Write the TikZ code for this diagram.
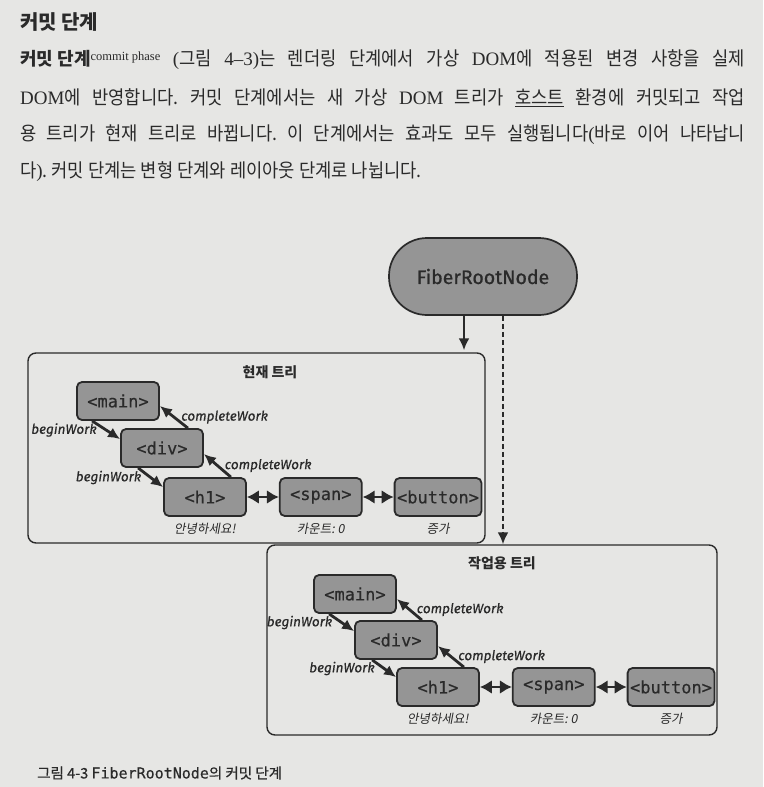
\documentclass[tikz,border=0pt]{standalone}
\usepackage{fontspec}
\setmainfont{Liberation Serif}
\setmonofont{DejaVu Sans Mono}[FakeBold=0.4]
\newfontfamily\kr{Noto Sans CJK KR}
\newfontfamily\krbody{Noto Sans CJK KR}[FakeStretch=0.93]
\newfontfamily\krcap{Noto Sans CJK KR}[FakeBold=0.6]
\newfontfamily\krslant{Noto Sans CJK KR}[FakeSlant=0.18]
\newfontfamily\fira{Fira Sans}[FakeBold=0.9]
\newfontfamily\firait{Fira Sans Italic}[FakeBold=0.5]
\usepackage{xcolor}
\usetikzlibrary{arrows.meta,positioning}
\definecolor{paper}{HTML}{E6E6E4}
\definecolor{ink}{HTML}{2A2A2A}
\definecolor{nodegray}{HTML}{959595}

\begin{document}
\frenchspacing
\begin{tikzpicture}[x=1pt, y=-1pt,
    >={Latex[length=12pt,width=11pt]},
    every node/.style={inner sep=0pt, text=ink},
    heading/.style={anchor=west, font=\kr\bfseries\fontsize{20}{20}\selectfont},
    bodyline/.style={anchor=west, font=\krbody\fontsize{19}{20}\selectfont},
    caption/.style={anchor=west, font=\krcap\fontsize{14.5}{15}\selectfont},
    fiber/.style={draw=ink, line width=1.7pt, fill=nodegray, rounded corners=38pt,
      minimum width=188pt, minimum height=77pt, font=\fira\fontsize{19.5}{20}\selectfont},
    treebox/.style={draw=ink, line width=1.4pt, rounded corners=8pt, fill=paper},
    boxtitle/.style={font=\kr\bfseries\fontsize{14}{14}\selectfont},
    elem/.style={draw=ink, line width=1.8pt, fill=nodegray, rounded corners=5pt,
      minimum width=82pt, minimum height=38pt, inner sep=2.5pt,
      font=\ttfamily\fontsize{17}{17}\selectfont},
    work/.style={font=\firait\fontsize{13.5}{14}\selectfont},
    note/.style={font=\krslant\fontsize{12.5}{13}\selectfont},
    link/.style={draw=ink, line width=2.8pt},
    duo/.style={draw=ink, line width=2.8pt, {Latex[length=12pt,width=14pt]}-{Latex[length=12pt,width=14pt]}}]

  \fill[paper] (0,0) rectangle (763,787);

  % text above the figure
  \node[heading] (head) at (20,22) {커밋 단계};
  \node[bodyline] (line1) at (20,60) {\makebox[725pt][s]{\mbox{\kr\bfseries\fontsize{18}{20}\selectfont 커밋 단계}\raisebox{5pt}{\rmfamily\fontsize{12.5}{12}\selectfont commit phase} {\rmfamily(}그림 {\rmfamily 4--3)}는 렌더링 단계에서 가상 {\rmfamily DOM}에 적용된 변경 사항을 실제}};
  \node[bodyline] (line2) at (20,98) {\makebox[725pt][s]{{\rmfamily DOM}에 반영합니다. 커밋 단계에서는 새 가상 {\rmfamily DOM} 트리가 \underline{호스트} 환경에 커밋되고 작업}};
  \node[bodyline] (line3) at (20,135) {\makebox[725pt][s]{용 트리가 현재 트리로 바뀝니다. 이 단계에서는 효과도 모두 실행됩니다{\rmfamily(}바로 이어 나타납니}};
  \node[bodyline] (line4) at (20,172) {다{\rmfamily)}. 커밋 단계는 변형 단계와 레이아웃 단계로 나뉩니다.};

  \node[fiber] (root) at (483,276.5) {FiberRootNode};

  % current tree
  \node[treebox, minimum width=457pt, minimum height=190pt] (cur) at (256.5,448) {};
  \node[boxtitle] (curtitle) at (270,372) {현재 트리};
  \node[elem] (cmain) at (118,401) {<main>};
  \node[elem] (cdiv) at (162,448) {<div>};
  \node[elem] (ch1) at (205,497) {<h1>};
  \node[elem, right=32pt of ch1] (cspan) {<span>};
  \node[elem, right=31pt of cspan] (cbutton) {<button>};
  \node[note, below=6pt of ch1] (chello) {안녕하세요!};
  \node[note, below=6pt of cspan] (ccount) {카운트: 0};
  \node[note, below=6pt of cbutton] (cinc) {증가};

  \draw[link, ->] ([xshift=16pt]cmain.south west) -- node[work, left=8pt] {beginWork} ([yshift=-11pt]cdiv.north west);
  \draw[link, ->] ([xshift=-16pt]cdiv.north east) -- node[work, right=6pt] {completeWork} ([yshift=-5pt]cmain.east);
  \draw[link, ->] ([xshift=18pt]cdiv.south west) -- node[work, left=8pt] {beginWork} ([yshift=-10pt]ch1.north west);
  \draw[link, ->] ([xshift=-16pt]ch1.north east) -- node[work, right=6pt] {completeWork} ([yshift=-6pt]cdiv.east);
  \draw[duo] (ch1) -- (cspan);
  \draw[duo] (cspan) -- (cbutton);

  % work-in-progress tree
  \node[treebox, minimum width=450pt, minimum height=190pt] (wip) at (492,640) {};
  \node[boxtitle] (wiptitle) at (502,563) {작업용 트리};
  \node[elem] (wmain) at (355,594) {<main>};
  \node[elem] (wdiv) at (396,640) {<div>};
  \node[elem] (wh1) at (438,687) {<h1>};
  \node[elem, right=32pt of wh1] (wspan) {<span>};
  \node[elem, right=31pt of wspan] (wbutton) {<button>};
  \node[note, below=6pt of wh1] (whello) {안녕하세요!};
  \node[note, below=6pt of wspan] (wcount) {카운트: 0};
  \node[note, below=6pt of wbutton] (winc) {증가};

  \draw[link, ->] ([xshift=16pt]wmain.south west) -- node[work, left=8pt] {beginWork} ([yshift=-11pt]wdiv.north west);
  \draw[link, ->] ([xshift=-16pt]wdiv.north east) -- node[work, right=6pt] {completeWork} ([yshift=-5pt]wmain.east);
  \draw[link, ->] ([xshift=18pt]wdiv.south west) -- node[work, left=8pt] {beginWork} ([yshift=-10pt]wh1.north west);
  \draw[link, ->] ([xshift=-16pt]wh1.north east) -- node[work, right=6pt] {completeWork} ([yshift=-6pt]wdiv.east);
  \draw[duo] (wh1) -- (wspan);
  \draw[duo] (wspan) -- (wbutton);

  % from the root
  \draw[link, ->, shorten >=2pt] ([xshift=-19pt]root.south) -- ([xshift=-19pt]root.south |- cur.north);
  \draw[link, ->, line width=2.2pt, dash pattern=on 5pt off 3pt] ([xshift=20pt]root.south) -- ([xshift=20pt]root.south |- wip.north);

  \node[caption] (cap) at (37,773) {그림 4-3 {\ttfamily\fontsize{15}{15}\selectfont FiberRootNode}의 커밋 단계};

\end{tikzpicture}
\end{document}
